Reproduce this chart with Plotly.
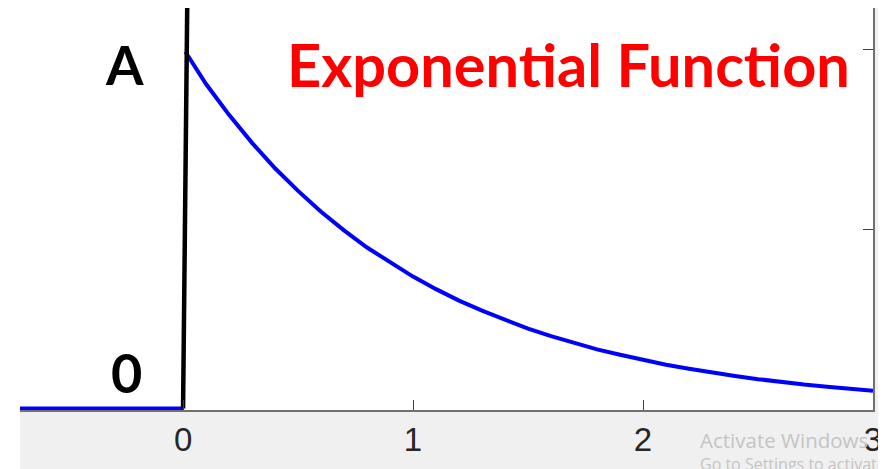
import plotly.graph_objects as go

# --- data ---
left_x = [-0.71, 0.0]
left_y = [0.0, 0.0]

decay_x = [0.01, 0.1, 0.2, 0.3, 0.4, 0.5, 0.6, 0.7, 0.8, 0.9, 1.0,
           1.1, 1.2, 1.3, 1.4, 1.5, 1.6, 1.7, 1.8, 1.9, 2.0,
           2.1, 2.2, 2.3, 2.4, 2.5, 2.6, 2.7, 2.8, 2.9, 3.0]
decay_y = [0.995, 0.905, 0.819, 0.741, 0.670, 0.607, 0.549, 0.497, 0.449, 0.407, 0.368,
           0.333, 0.301, 0.273, 0.247, 0.223, 0.202, 0.183, 0.165, 0.150, 0.135,
           0.122, 0.111, 0.100, 0.091, 0.082, 0.074, 0.067, 0.061, 0.055, 0.050]

vline_x = [0.0, 0.018]
vline_y = [0.0, 1.117]

x_ticks = [0, 1, 2, 3]
x_ticklabels = ["0", "1", "2", "3"]
y_ticks = [0.5, 1.0]

title_text = "Exponential Function"
label_top = "A"
label_bottom = "0"
watermark_1 = "Activate Windows"
watermark_2 = "Go to Settings to activate Windows."

# figure sits at an 8px page offset inside the 886x469 window
W, H = 878, 461
ML, MR, MT, MB = 12, 13, 0, 59
pw = W - ML - MR
ph = H - MT - MB

fig = go.Figure()
fig.add_trace(go.Scatter(x=left_x, y=left_y, mode="lines",
                         line=dict(color="#0000ff", width=4), showlegend=False,
                         hoverinfo="skip"))
fig.add_trace(go.Scatter(x=decay_x, y=decay_y, mode="lines",
                         line=dict(color="#0000ff", width=4), showlegend=False,
                         hoverinfo="skip"))
fig.add_trace(go.Scatter(x=vline_x, y=vline_y, mode="lines",
                         line=dict(color="#000000", width=4.5), showlegend=False,
                         hoverinfo="skip"))

grey = "#f0f0f0"

# white strip left of the grey figure window
fig.add_shape(type="rect", xref="paper", yref="paper",
              x0=-ML / pw - 0.01, x1=0, y0=-MB / ph - 0.02, y1=1.02,
              fillcolor="white", line_width=0, layer="below")

font_bold = "Lato, 'Open Sans', sans-serif"
annos = [
    dict(text=label_top, x=-0.253, y=0.96,
         font=dict(size=54, color="black", family=font_bold, weight="bold")),
    dict(text=label_bottom, x=-0.244, y=0.101,
         font=dict(size=54, color="black", family=font_bold, weight="bold")),
    dict(text=title_text, x=1.678, y=0.96,
         font=dict(size=59.5, color="#ff0000", family=font_bold, weight="bold")),
]
for a in annos:
    fig.add_annotation(xref="x", yref="y", showarrow=False,
                       xanchor="center", yanchor="middle", **a)

# watermark
fig.add_annotation(xref="paper", yref="paper", x=(690 - ML) / pw,
                   y=-(432 - ph) / ph, text=watermark_1,
                   showarrow=False, xanchor="left", yanchor="middle",
                   font=dict(size=20.5, color="#c4c4c4", family="'Open Sans', sans-serif"))
fig.add_annotation(xref="paper", yref="paper", x=(690 - ML) / pw,
                   y=-(456 - ph) / ph, text=watermark_2,
                   showarrow=False, xanchor="left", yanchor="middle",
                   font=dict(size=16, color="#c4c4c4", family="'Open Sans', sans-serif"))

fig.update_layout(
    width=W, height=H, autosize=False,
    margin=dict(l=ML, r=MR, t=MT, b=MB, pad=0),
    paper_bgcolor=grey, plot_bgcolor="white",
    xaxis=dict(range=[-0.709, 3.0], tickvals=x_ticks, ticktext=x_ticklabels,
               showgrid=False, zeroline=False, showline=True, linecolor="#707070",
               linewidth=1.5, ticks="inside", ticklen=10, tickcolor="#404040",
               tickwidth=1.2,
               tickfont=dict(size=33, color="#262626",
                             family="'Liberation Sans', Arial, sans-serif")),
    yaxis=dict(range=[-0.004, 1.117], side="right", tickvals=y_ticks,
               showticklabels=False, showgrid=False, zeroline=False,
               showline=True, linecolor="#707070", linewidth=1.5,
               ticks="inside", ticklen=10, tickcolor="#404040", tickwidth=1.2),
)

fig.write_html("out.html")
